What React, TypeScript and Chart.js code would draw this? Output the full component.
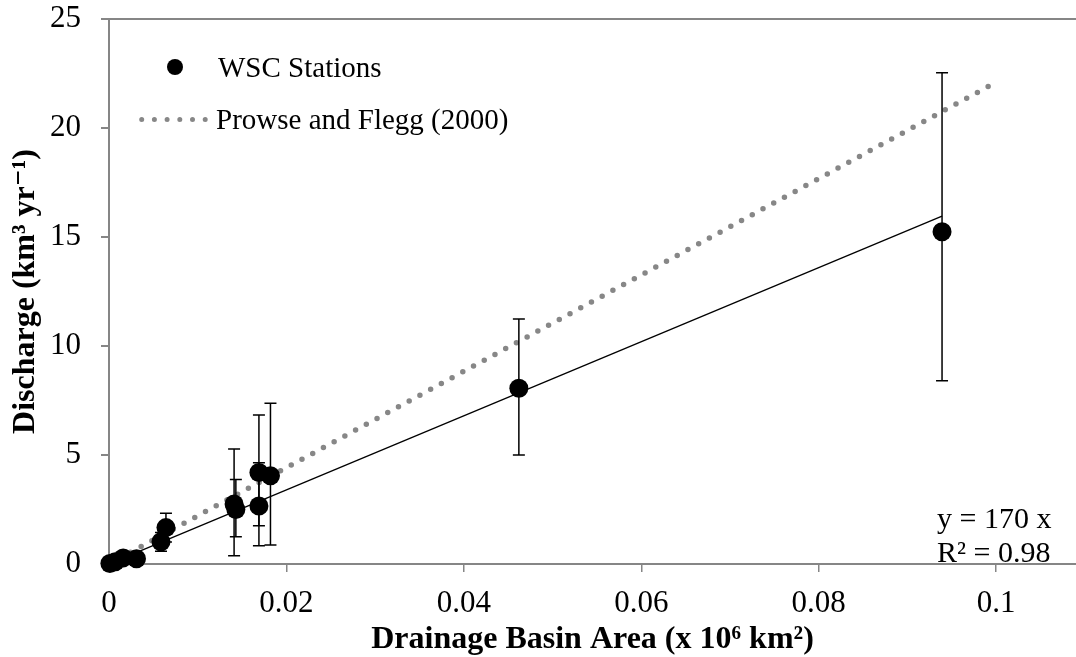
import React, { useEffect, useRef } from 'react';
import { Chart, registerables } from 'chart.js';

Chart.register(...registerables);

// ---------- data ----------
const AREA_X = [0.0001, 0.0007, 0.0016, 0.0031, 0.00586, 0.00642, 0.0141, 0.0143, 0.0169, 0.0169, 0.0182, 0.0462, 0.0939];
const DISCHARGE_Y = [0.02, 0.1, 0.28, 0.24, 1.02, 1.67, 2.75, 2.5, 4.2, 2.66, 4.05, 8.06, 15.24];
const ERR_LOW = [null, null, null, null, 0.59, 1.01, 0.38, 1.25, 1.76, 0.84, 0.87, 5.0, 8.41];
const ERR_HIGH = [null, null, null, null, 1.45, 2.33, 5.27, 3.88, 6.83, 4.65, 7.37, 11.24, 22.54];

const FIT_X = [0, 0.0939];
const FIT_Y = [0, 15.96];

const PF_X = [0, 0.1];
const PF_Y = [0, 22.1];

const X_TICKS = [0, 0.02, 0.04, 0.06, 0.08, 0.1];
const X_TICK_LABELS = ['0', '0.02', '0.04', '0.06', '0.08', '0.1'];
const Y_TICKS = [0, 5, 10, 15, 20, 25];
const Y_TICK_LABELS = ['0', '5', '10', '15', '20', '25'];

const SERIES_LABELS = ['WSC Stations', 'Prowse and Flegg (2000)'];
const EQUATION_LINES = ['y = 170 x', 'R² = 0.98'];

const X_TITLE = 'Drainage Basin Area (x 10⁶ km²)';
const Y_TITLE = 'Discharge (km³ yr⁻¹)';

// ---------- styles ----------
const FONT = "'Liberation Serif', 'Times New Roman', 'DejaVu Serif', serif";
const AXIS = '#868686';
const PF_COLOR = '#878787';

const errorBarPlugin = {
  id: 'errorBars',
  afterDatasetsDraw(chart: any) {
    const { ctx, scales } = chart;
    const xs = scales.x, ys = scales.y;
    ctx.save();
    ctx.strokeStyle = '#000';
    ctx.lineWidth = 1.5;
    for (let i = 0; i < AREA_X.length; i++) {
      const lo = ERR_LOW[i], hi = ERR_HIGH[i];
      if (lo == null || hi == null) continue;
      const px = xs.getPixelForValue(AREA_X[i]);
      const pLo = ys.getPixelForValue(lo);
      const pHi = ys.getPixelForValue(hi);
      ctx.beginPath();
      ctx.moveTo(px, pLo);
      ctx.lineTo(px, pHi);
      ctx.moveTo(px - 6, pLo);
      ctx.lineTo(px + 6, pLo);
      ctx.moveTo(px - 6, pHi);
      ctx.lineTo(px + 6, pHi);
      ctx.stroke();
    }
    ctx.restore();
  },
};

const legendPlugin = {
  id: 'customLegend',
  afterDraw(chart: any) {
    const { ctx } = chart;
    ctx.save();
    ctx.font = `29px ${FONT}`;
    ctx.fillStyle = '#000';
    ctx.textBaseline = 'middle';
    ctx.textAlign = 'left';
    ctx.beginPath();
    ctx.arc(175, 67, 8, 0, Math.PI * 2);
    ctx.fill();
    ctx.fillText(SERIES_LABELS[0], 218, 69);
    ctx.strokeStyle = PF_COLOR;
    ctx.lineWidth = 5;
    ctx.lineCap = 'round';
    ctx.setLineDash([0, 12.7]);
    ctx.beginPath();
    ctx.moveTo(141.7, 119.5);
    ctx.lineTo(206, 119.5);
    ctx.stroke();
    ctx.setLineDash([]);
    ctx.fillText(SERIES_LABELS[1], 216, 121);
    ctx.restore();
  },
};

const equationPlugin = {
  id: 'equation',
  afterDraw(chart: any) {
    const { ctx } = chart;
    ctx.save();
    ctx.font = `30px ${FONT}`;
    ctx.fillStyle = '#000';
    ctx.textBaseline = 'middle';
    ctx.textAlign = 'left';
    ctx.fillText(EQUATION_LINES[0], 937, 520);
    ctx.fillText(EQUATION_LINES[1], 937, 554);
    ctx.restore();
  },
};

export default function App() {
  const ref = useRef<HTMLCanvasElement>(null);
  useEffect(() => {
    document.body.style.margin = '0';
    const pts = AREA_X.map((x, i) => ({ x, y: DISCHARGE_Y[i] }));
    const fit = FIT_X.map((x, i) => ({ x, y: FIT_Y[i] }));
    const pf = PF_X.map((x, i) => ({ x, y: PF_Y[i] }));
    const chart = new Chart(ref.current as HTMLCanvasElement, {
      type: 'scatter',
      data: {
        datasets: [
          {
            label: SERIES_LABELS[0],
            data: pts,
            backgroundColor: '#000',
            borderWidth: 0,
            pointRadius: 9.5,
            showLine: false,
            clip: false,
            order: 0,
          } as any,
          {
            label: 'Linear fit',
            data: fit,
            showLine: true,
            borderColor: '#000',
            borderWidth: 1.3,
            pointRadius: 0,
            order: 1,
          } as any,
          {
            label: SERIES_LABELS[1],
            data: pf,
            showLine: true,
            borderColor: PF_COLOR,
            borderWidth: 5.5,
            borderDash: [0, 12.2],
            borderCapStyle: 'round',
            pointRadius: 0,
            order: 2,
          } as any,
        ],
      },
      options: {
        responsive: false,
        animation: false,
        devicePixelRatio: 1,
        layout: { autoPadding: false, padding: { top: 19, right: 0, bottom: 0, left: 0 } },
        plugins: { legend: { display: false }, tooltip: { enabled: false } },
        scales: {
          x: {
            type: 'linear',
            min: 0,
            max: 0.109,
            afterBuildTicks: (scale: any) => {
              scale.ticks = X_TICKS.map((v) => ({ value: v }));
            },
            afterFit: (scale: any) => {
              scale.height = 93;
              scale.paddingLeft = 0;
              scale.paddingRight = 0;
            },
            ticks: {
              autoSkip: false,
              maxRotation: 0,
              padding: 13,
              color: '#000',
              font: { family: FONT, size: 31 },
              callback: (_v: any, i: number) => X_TICK_LABELS[i],
            },
            grid: { drawOnChartArea: false, drawTicks: true, tickLength: 8, color: AXIS, lineWidth: 1.5 },
            border: { display: true, color: AXIS, width: 2 },
            title: {
              display: true,
              text: X_TITLE,
              color: '#000',
              font: { family: FONT, size: 32, weight: 'bold', lineHeight: 1 },
              padding: { top: 0, bottom: 1 },
            },
          },
          y: {
            type: 'linear',
            min: 0,
            max: 25,
            afterBuildTicks: (scale: any) => {
              scale.ticks = Y_TICKS.map((v) => ({ value: v }));
            },
            afterFit: (scale: any) => {
              scale.width = 109;
              scale.paddingTop = 0;
              scale.paddingBottom = 0;
            },
            ticks: {
              padding: 20,
              color: '#000',
              font: { family: FONT, size: 31 },
              callback: (_v: any, i: number) => Y_TICK_LABELS[i],
            },
            grid: {
              drawOnChartArea: true,
              drawTicks: true,
              tickLength: 8,
              lineWidth: 2,
              color: (c: any) => (c.tick && c.tick.value === 25 ? AXIS : 'rgba(0,0,0,0)'),
              tickColor: AXIS,
            },
            border: { display: true, color: AXIS, width: 2 },
            title: {
              display: true,
              text: Y_TITLE,
              color: '#000',
              font: { family: FONT, size: 32, weight: 'bold', lineHeight: 1 },
              padding: { top: 10, bottom: 0 },
            },
          },
        },
      },
      plugins: [errorBarPlugin, legendPlugin, equationPlugin],
    } as any);
    return () => chart.destroy();
  }, []);
  return (
    <div style={{ width: 1076, height: 657 }}>
      <canvas ref={ref} width={1076} height={657} style={{ display: 'block' }} />
    </div>
  );
}
